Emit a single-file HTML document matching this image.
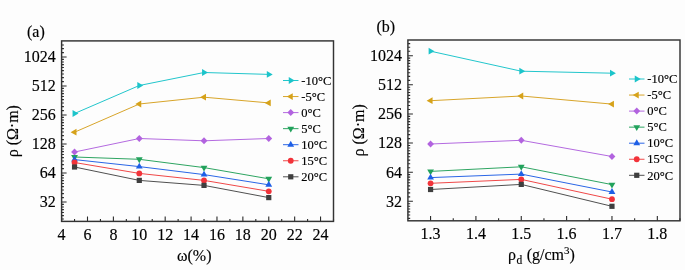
<!DOCTYPE html>
<html><head><meta charset="utf-8"><style>
html,body{margin:0;padding:0;background:#fff;}
body{width:685px;height:270px;overflow:hidden;}
svg{display:block;font-family:"Liberation Serif", serif;will-change:transform;}
text{fill:#000;stroke:#000;stroke-width:0.15px;}
</style></head><body>
<svg width="685" height="270" viewBox="0 0 685 270">
<rect width="685" height="270" fill="#fdfdfd"/>
<path d="M61.60,221.40V216.60M87.50,221.40V216.60M113.39,221.40V216.60M139.29,221.40V216.60M165.18,221.40V216.60M191.08,221.40V216.60M216.97,221.40V216.60M242.87,221.40V216.60M268.76,221.40V216.60M294.66,221.40V216.60M320.55,221.40V216.60M74.55,221.40V218.90M100.44,221.40V218.90M126.34,221.40V218.90M152.23,221.40V218.90M178.13,221.40V218.90M204.02,221.40V218.90M229.92,221.40V218.90M255.81,221.40V218.90M281.71,221.40V218.90M307.60,221.40V218.90M333.50,221.40V218.90M61.60,202.00H66.60M61.60,173.00H66.60M61.60,144.00H66.60M61.60,115.00H66.60M61.60,86.00H66.60M61.60,57.00H66.60M61.60,218.96H63.90M61.60,215.62H63.90M61.60,212.51H63.90M61.60,209.63H63.90M61.60,206.93H63.90M61.60,204.39H63.90M61.60,197.59H63.90M61.60,193.60H63.90M61.60,189.96H63.90M61.60,186.62H63.90M61.60,183.51H63.90M61.60,180.63H63.90M61.60,177.93H63.90M61.60,175.39H63.90M61.60,168.59H63.90M61.60,164.60H63.90M61.60,160.96H63.90M61.60,157.62H63.90M61.60,154.51H63.90M61.60,151.63H63.90M61.60,148.93H63.90M61.60,146.39H63.90M61.60,139.59H63.90M61.60,135.60H63.90M61.60,131.96H63.90M61.60,128.62H63.90M61.60,125.51H63.90M61.60,122.63H63.90M61.60,119.93H63.90M61.60,117.39H63.90M61.60,110.59H63.90M61.60,106.60H63.90M61.60,102.96H63.90M61.60,99.62H63.90M61.60,96.51H63.90M61.60,93.63H63.90M61.60,90.93H63.90M61.60,88.39H63.90M61.60,81.59H63.90M61.60,77.60H63.90M61.60,73.96H63.90M61.60,70.62H63.90M61.60,67.51H63.90M61.60,64.63H63.90M61.60,61.93H63.90M61.60,59.39H63.90M61.60,52.59H63.90M61.60,48.60H63.90M61.60,44.96H63.90" stroke="#2a2a2a" stroke-width="1.1" fill="none"/>
<rect x="61.60" y="40.90" width="271.90" height="180.50" fill="none" stroke="#333" stroke-width="1.45"/>
<polyline points="74.55,113.50 139.29,85.50 204.02,72.50 268.76,74.40" fill="none" stroke="#22c6cc" stroke-width="1.0"/>
<polyline points="74.55,132.20 139.29,104.00 204.02,97.20 268.76,102.90" fill="none" stroke="#d8a52a" stroke-width="1.0"/>
<polyline points="74.55,152.00 139.29,138.50 204.02,140.80 268.76,138.50" fill="none" stroke="#b46ae0" stroke-width="1.0"/>
<polyline points="74.55,157.00 139.29,159.30 204.02,167.60 268.76,178.80" fill="none" stroke="#2ea562" stroke-width="1.0"/>
<polyline points="74.55,159.60 139.29,166.60 204.02,174.60 268.76,184.80" fill="none" stroke="#2a66e6" stroke-width="1.0"/>
<polyline points="74.55,162.50 139.29,173.40 204.02,180.40 268.76,191.30" fill="none" stroke="#f04848" stroke-width="1.0"/>
<polyline points="74.55,167.00 139.29,180.40 204.02,185.40 268.76,197.60" fill="none" stroke="#505050" stroke-width="1.0"/>
<polygon points="72.58,110.10 78.48,113.50 72.58,116.90" fill="#1cc4ca"/>
<polygon points="137.32,82.10 143.22,85.50 137.32,88.90" fill="#1cc4ca"/>
<polygon points="202.06,69.10 207.96,72.50 202.06,75.90" fill="#1cc4ca"/>
<polygon points="266.80,71.00 272.70,74.40 266.80,77.80" fill="#1cc4ca"/>
<polygon points="76.51,128.80 70.61,132.20 76.51,135.60" fill="#d6a21a"/>
<polygon points="141.25,100.60 135.35,104.00 141.25,107.40" fill="#d6a21a"/>
<polygon points="205.99,93.80 200.09,97.20 205.99,100.60" fill="#d6a21a"/>
<polygon points="270.73,99.50 264.83,102.90 270.73,106.30" fill="#d6a21a"/>
<polygon points="74.55,148.50 77.95,152.00 74.55,155.50 71.15,152.00" fill="#b263df"/>
<polygon points="139.29,135.00 142.69,138.50 139.29,142.00 135.89,138.50" fill="#b263df"/>
<polygon points="204.02,137.30 207.42,140.80 204.02,144.30 200.62,140.80" fill="#b263df"/>
<polygon points="268.76,135.00 272.16,138.50 268.76,142.00 265.36,138.50" fill="#b263df"/>
<polygon points="71.15,155.03 74.55,160.93 77.95,155.03" fill="#22a25c"/>
<polygon points="135.89,157.33 139.29,163.23 142.69,157.33" fill="#22a25c"/>
<polygon points="200.62,165.63 204.02,171.53 207.42,165.63" fill="#22a25c"/>
<polygon points="265.36,176.83 268.76,182.73 272.16,176.83" fill="#22a25c"/>
<polygon points="71.15,161.57 74.55,155.67 77.95,161.57" fill="#1e5fe6"/>
<polygon points="135.89,168.57 139.29,162.67 142.69,168.57" fill="#1e5fe6"/>
<polygon points="200.62,176.57 204.02,170.67 207.42,176.57" fill="#1e5fe6"/>
<polygon points="265.36,186.77 268.76,180.87 272.16,186.77" fill="#1e5fe6"/>
<circle cx="74.55" cy="162.50" r="2.90" fill="#f2333a"/>
<circle cx="139.29" cy="173.40" r="2.90" fill="#f2333a"/>
<circle cx="204.02" cy="180.40" r="2.90" fill="#f2333a"/>
<circle cx="268.76" cy="191.30" r="2.90" fill="#f2333a"/>
<rect x="71.95" y="164.40" width="5.20" height="5.20" fill="#3f3f3f"/>
<rect x="136.69" y="177.80" width="5.20" height="5.20" fill="#3f3f3f"/>
<rect x="201.42" y="182.80" width="5.20" height="5.20" fill="#3f3f3f"/>
<rect x="266.16" y="195.00" width="5.20" height="5.20" fill="#3f3f3f"/>
<line x1="283.00" y1="80.50" x2="298.50" y2="80.50" stroke="#22c6cc" stroke-width="1.0"/>
<polygon points="288.78,77.10 294.68,80.50 288.78,83.90" fill="#1cc4ca"/>
<text x="301.30" y="84.70" font-size="12.5">-10°C</text>
<line x1="283.00" y1="96.55" x2="298.50" y2="96.55" stroke="#d8a52a" stroke-width="1.0"/>
<polygon points="292.72,93.15 286.82,96.55 292.72,99.95" fill="#d6a21a"/>
<text x="301.30" y="100.75" font-size="12.5">-5°C</text>
<line x1="283.00" y1="112.60" x2="298.50" y2="112.60" stroke="#b46ae0" stroke-width="1.0"/>
<polygon points="290.75,109.10 294.15,112.60 290.75,116.10 287.35,112.60" fill="#b263df"/>
<text x="301.30" y="116.80" font-size="12.5">0°C</text>
<line x1="283.00" y1="128.65" x2="298.50" y2="128.65" stroke="#2ea562" stroke-width="1.0"/>
<polygon points="287.35,126.68 290.75,132.58 294.15,126.68" fill="#22a25c"/>
<text x="301.30" y="132.85" font-size="12.5">5°C</text>
<line x1="283.00" y1="144.70" x2="298.50" y2="144.70" stroke="#2a66e6" stroke-width="1.0"/>
<polygon points="287.35,146.67 290.75,140.77 294.15,146.67" fill="#1e5fe6"/>
<text x="301.30" y="148.90" font-size="12.5">10°C</text>
<line x1="283.00" y1="160.75" x2="298.50" y2="160.75" stroke="#f04848" stroke-width="1.0"/>
<circle cx="290.75" cy="160.75" r="2.90" fill="#f2333a"/>
<text x="301.30" y="164.95" font-size="12.5">15°C</text>
<line x1="283.00" y1="176.80" x2="298.50" y2="176.80" stroke="#505050" stroke-width="1.0"/>
<rect x="288.15" y="174.20" width="5.20" height="5.20" fill="#3f3f3f"/>
<text x="301.30" y="181.00" font-size="12.5">20°C</text>
<text x="55.80" y="207.40" font-size="16" text-anchor="end">32</text>
<text x="55.80" y="178.40" font-size="16" text-anchor="end">64</text>
<text x="55.80" y="149.40" font-size="16" text-anchor="end">128</text>
<text x="55.80" y="120.40" font-size="16" text-anchor="end">256</text>
<text x="55.80" y="91.40" font-size="16" text-anchor="end">512</text>
<text x="55.80" y="62.40" font-size="16" text-anchor="end">1024</text>
<text x="61.60" y="239.50" font-size="16" text-anchor="middle">4</text>
<text x="87.50" y="239.50" font-size="16" text-anchor="middle">6</text>
<text x="113.39" y="239.50" font-size="16" text-anchor="middle">8</text>
<text x="139.29" y="239.50" font-size="16" text-anchor="middle">10</text>
<text x="165.18" y="239.50" font-size="16" text-anchor="middle">12</text>
<text x="191.08" y="239.50" font-size="16" text-anchor="middle">14</text>
<text x="216.97" y="239.50" font-size="16" text-anchor="middle">16</text>
<text x="242.87" y="239.50" font-size="16" text-anchor="middle">18</text>
<text x="268.76" y="239.50" font-size="16" text-anchor="middle">20</text>
<text x="294.66" y="239.50" font-size="16" text-anchor="middle">22</text>
<text x="320.55" y="239.50" font-size="16" text-anchor="middle">24</text>
<path d="M430.57,220.80V216.00M475.92,220.80V216.00M521.27,220.80V216.00M566.62,220.80V216.00M611.97,220.80V216.00M657.33,220.80V216.00M453.25,220.80V218.30M498.60,220.80V218.30M543.95,220.80V218.30M589.30,220.80V218.30M634.65,220.80V218.30M680.00,220.80V218.30M407.90,201.30H412.90M407.90,172.18H412.90M407.90,143.06H412.90M407.90,113.94H412.90M407.90,84.82H412.90M407.90,55.70H412.90M407.90,218.33H410.20M407.90,214.97H410.20M407.90,211.86H410.20M407.90,208.96H410.20M407.90,206.25H410.20M407.90,203.70H410.20M407.90,196.87H410.20M407.90,192.87H410.20M407.90,189.21H410.20M407.90,185.85H410.20M407.90,182.74H410.20M407.90,179.84H410.20M407.90,177.13H410.20M407.90,174.58H410.20M407.90,167.75H410.20M407.90,163.75H410.20M407.90,160.09H410.20M407.90,156.73H410.20M407.90,153.62H410.20M407.90,150.72H410.20M407.90,148.01H410.20M407.90,145.46H410.20M407.90,138.63H410.20M407.90,134.63H410.20M407.90,130.97H410.20M407.90,127.61H410.20M407.90,124.50H410.20M407.90,121.60H410.20M407.90,118.89H410.20M407.90,116.34H410.20M407.90,109.51H410.20M407.90,105.51H410.20M407.90,101.85H410.20M407.90,98.49H410.20M407.90,95.38H410.20M407.90,92.48H410.20M407.90,89.77H410.20M407.90,87.22H410.20M407.90,80.39H410.20M407.90,76.39H410.20M407.90,72.73H410.20M407.90,69.37H410.20M407.90,66.26H410.20M407.90,63.36H410.20M407.90,60.65H410.20M407.90,58.10H410.20M407.90,51.27H410.20M407.90,47.27H410.20M407.90,43.61H410.20" stroke="#2a2a2a" stroke-width="1.1" fill="none"/>
<rect x="407.90" y="40.00" width="272.10" height="180.80" fill="none" stroke="#333" stroke-width="1.45"/>
<polyline points="430.57,51.20 521.27,71.20 611.97,73.20" fill="none" stroke="#22c6cc" stroke-width="1.0"/>
<polyline points="430.57,100.70 521.27,96.00 611.97,104.10" fill="none" stroke="#d8a52a" stroke-width="1.0"/>
<polyline points="430.57,144.00 521.27,140.30 611.97,156.50" fill="none" stroke="#b46ae0" stroke-width="1.0"/>
<polyline points="430.57,171.40 521.27,166.80 611.97,184.60" fill="none" stroke="#2ea562" stroke-width="1.0"/>
<polyline points="430.57,177.60 521.27,174.10 611.97,192.00" fill="none" stroke="#2a66e6" stroke-width="1.0"/>
<polyline points="430.57,183.30 521.27,179.40 611.97,199.20" fill="none" stroke="#f04848" stroke-width="1.0"/>
<polyline points="430.57,189.50 521.27,184.40 611.97,206.30" fill="none" stroke="#505050" stroke-width="1.0"/>
<polygon points="428.61,47.80 434.51,51.20 428.61,54.60" fill="#1cc4ca"/>
<polygon points="519.31,67.80 525.21,71.20 519.31,74.60" fill="#1cc4ca"/>
<polygon points="610.01,69.80 615.91,73.20 610.01,76.60" fill="#1cc4ca"/>
<polygon points="432.54,97.30 426.64,100.70 432.54,104.10" fill="#d6a21a"/>
<polygon points="523.24,92.60 517.34,96.00 523.24,99.40" fill="#d6a21a"/>
<polygon points="613.94,100.70 608.04,104.10 613.94,107.50" fill="#d6a21a"/>
<polygon points="430.57,140.50 433.97,144.00 430.57,147.50 427.18,144.00" fill="#b263df"/>
<polygon points="521.27,136.80 524.67,140.30 521.27,143.80 517.88,140.30" fill="#b263df"/>
<polygon points="611.97,153.00 615.37,156.50 611.97,160.00 608.57,156.50" fill="#b263df"/>
<polygon points="427.18,169.43 430.57,175.33 433.97,169.43" fill="#22a25c"/>
<polygon points="517.88,164.83 521.27,170.73 524.67,164.83" fill="#22a25c"/>
<polygon points="608.57,182.63 611.97,188.53 615.37,182.63" fill="#22a25c"/>
<polygon points="427.18,179.57 430.57,173.67 433.97,179.57" fill="#1e5fe6"/>
<polygon points="517.88,176.07 521.27,170.17 524.67,176.07" fill="#1e5fe6"/>
<polygon points="608.57,193.97 611.97,188.07 615.37,193.97" fill="#1e5fe6"/>
<circle cx="430.57" cy="183.30" r="2.90" fill="#f2333a"/>
<circle cx="521.27" cy="179.40" r="2.90" fill="#f2333a"/>
<circle cx="611.97" cy="199.20" r="2.90" fill="#f2333a"/>
<rect x="427.97" y="186.90" width="5.20" height="5.20" fill="#3f3f3f"/>
<rect x="518.67" y="181.80" width="5.20" height="5.20" fill="#3f3f3f"/>
<rect x="609.37" y="203.70" width="5.20" height="5.20" fill="#3f3f3f"/>
<line x1="629.00" y1="79.00" x2="644.50" y2="79.00" stroke="#22c6cc" stroke-width="1.0"/>
<polygon points="634.78,75.60 640.68,79.00 634.78,82.40" fill="#1cc4ca"/>
<text x="647.30" y="83.20" font-size="12.5">-10°C</text>
<line x1="629.00" y1="95.05" x2="644.50" y2="95.05" stroke="#d8a52a" stroke-width="1.0"/>
<polygon points="638.72,91.65 632.82,95.05 638.72,98.45" fill="#d6a21a"/>
<text x="647.30" y="99.25" font-size="12.5">-5°C</text>
<line x1="629.00" y1="111.10" x2="644.50" y2="111.10" stroke="#b46ae0" stroke-width="1.0"/>
<polygon points="636.75,107.60 640.15,111.10 636.75,114.60 633.35,111.10" fill="#b263df"/>
<text x="647.30" y="115.30" font-size="12.5">0°C</text>
<line x1="629.00" y1="127.15" x2="644.50" y2="127.15" stroke="#2ea562" stroke-width="1.0"/>
<polygon points="633.35,125.18 636.75,131.08 640.15,125.18" fill="#22a25c"/>
<text x="647.30" y="131.35" font-size="12.5">5°C</text>
<line x1="629.00" y1="143.20" x2="644.50" y2="143.20" stroke="#2a66e6" stroke-width="1.0"/>
<polygon points="633.35,145.17 636.75,139.27 640.15,145.17" fill="#1e5fe6"/>
<text x="647.30" y="147.40" font-size="12.5">10°C</text>
<line x1="629.00" y1="159.25" x2="644.50" y2="159.25" stroke="#f04848" stroke-width="1.0"/>
<circle cx="636.75" cy="159.25" r="2.90" fill="#f2333a"/>
<text x="647.30" y="163.45" font-size="12.5">15°C</text>
<line x1="629.00" y1="175.30" x2="644.50" y2="175.30" stroke="#505050" stroke-width="1.0"/>
<rect x="634.15" y="172.70" width="5.20" height="5.20" fill="#3f3f3f"/>
<text x="647.30" y="179.50" font-size="12.5">20°C</text>
<text x="402.10" y="206.70" font-size="16" text-anchor="end">32</text>
<text x="402.10" y="177.58" font-size="16" text-anchor="end">64</text>
<text x="402.10" y="148.46" font-size="16" text-anchor="end">128</text>
<text x="402.10" y="119.34" font-size="16" text-anchor="end">256</text>
<text x="402.10" y="90.22" font-size="16" text-anchor="end">512</text>
<text x="402.10" y="61.10" font-size="16" text-anchor="end">1024</text>
<text x="430.57" y="239.00" font-size="16" text-anchor="middle">1.3</text>
<text x="475.92" y="239.00" font-size="16" text-anchor="middle">1.4</text>
<text x="521.27" y="239.00" font-size="16" text-anchor="middle">1.5</text>
<text x="566.62" y="239.00" font-size="16" text-anchor="middle">1.6</text>
<text x="611.97" y="239.00" font-size="16" text-anchor="middle">1.7</text>
<text x="657.33" y="239.00" font-size="16" text-anchor="middle">1.8</text>
<text x="27" y="36.8" font-size="16">(a)</text>
<text x="376.5" y="31.6" font-size="16">(b)</text>
<text x="177" y="261.1" font-size="16">ω(%)</text>
<text x="508" y="260" font-size="16">ρ<tspan font-size="11.5" dx="0.6" dy="4">d</tspan><tspan dx="0.3" dy="-4"> (g/cm</tspan><tspan font-size="11" dy="-6">3</tspan><tspan dy="6">)</tspan></text>
<text transform="translate(17.8,131.2) rotate(-90)" font-size="16" text-anchor="middle">ρ (Ω·m)</text>
<text transform="translate(364.4,130.3) rotate(-90)" font-size="16" text-anchor="middle">ρ (Ω·m)</text>
</svg>
</body></html>
